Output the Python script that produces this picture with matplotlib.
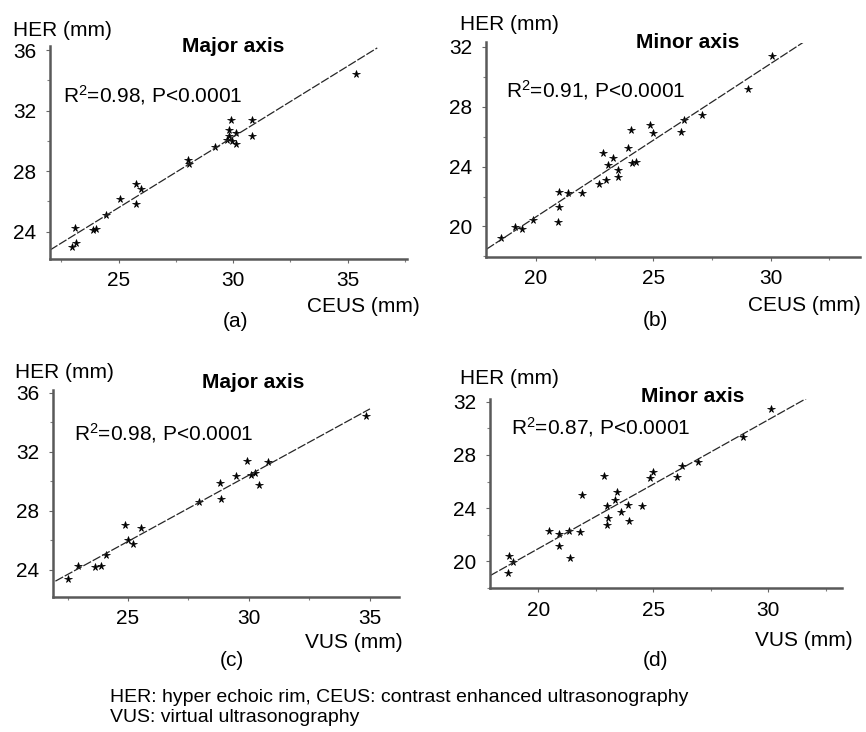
import matplotlib.pyplot as plt
import numpy as np
from matplotlib.ticker import MultipleLocator

plt.rcParams['font.family'] = ['Liberation Sans', 'DejaVu Sans']
plt.rcParams['mathtext.fontset'] = 'custom'
plt.rcParams['mathtext.rm'] = 'Liberation Sans'
plt.rcParams['mathtext.it'] = 'Liberation Sans'

W, H = 866, 732

# ---- data (mm) ----
a_x = [22.94, 23.13, 23.09, 23.88, 24.03, 24.46, 25.07, 25.74, 25.99, 25.77, 28.01, 28.06,
       29.22, 29.75, 29.83, 29.80, 29.90, 30.12, 30.14, 29.97, 30.84, 30.84, 35.36]
a_y = [23.00, 23.27, 24.26, 24.10, 24.20, 25.10, 26.14, 27.13, 26.83, 25.83, 28.75, 28.50,
       29.60, 30.07, 30.30, 30.70, 31.35, 30.50, 29.80, 29.96, 31.35, 30.33, 34.44]

b_x = [18.51, 19.12, 19.40, 19.86, 20.92, 20.96, 20.96, 21.35, 21.96, 22.67, 22.98, 22.84,
       23.05, 23.26, 23.48, 23.48, 23.90, 24.04, 24.09, 24.26, 24.85, 25.00, 26.17, 26.31,
       27.06, 29.05, 30.04]
b_y = [19.22, 19.96, 19.82, 20.44, 20.27, 21.29, 22.33, 22.27, 22.27, 22.82, 23.11, 24.93,
       24.10, 24.56, 23.33, 23.78, 25.22, 26.44, 24.22, 24.33, 26.78, 26.22, 26.33, 27.11,
       27.44, 29.22, 31.38]

c_x = [22.52, 22.93, 23.62, 23.90, 24.08, 24.86, 25.00, 25.21, 25.55, 27.94, 28.82, 28.86,
       29.48, 29.90, 30.10, 30.24, 30.42, 30.79, 34.83]
c_y = [23.37, 24.23, 24.18, 24.23, 25.02, 27.05, 26.04, 25.76, 26.83, 28.57, 29.88, 28.80,
       30.33, 31.35, 30.45, 30.60, 29.77, 31.28, 34.45]

d_x = [18.70, 18.74, 18.88, 20.48, 20.91, 20.91, 21.35, 21.38, 21.81, 21.88, 22.86, 22.97,
       23.04, 22.97, 23.33, 23.43, 23.58, 23.91, 23.96, 24.49, 24.86, 24.97, 26.01, 26.23,
       26.96, 28.91, 30.10]
d_y = [19.13, 20.38, 19.93, 22.25, 22.08, 21.18, 22.25, 20.25, 22.18, 25.00, 26.43, 24.13,
       23.25, 22.75, 24.63, 25.18, 23.68, 24.25, 23.00, 24.13, 26.25, 26.75, 26.33, 27.13,
       27.43, 29.33, 31.43]

titles = ['Major axis', 'Minor axis', 'Major axis', 'Minor axis']
stats = ['R$^2$=0.98, P<0.0001', 'R$^2$=0.91, P<0.0001',
         'R$^2$=0.98, P<0.0001', 'R$^2$=0.87, P<0.0001']
xlabels = ['CEUS (mm)', 'CEUS (mm)', 'VUS (mm)', 'VUS (mm)']
letters = ['(a)', '(b)', '(c)', '(d)']
xmajor = [[25, 30, 35], [20, 25, 30], [25, 30, 35], [20, 25, 30]]
ymajor = [[24, 28, 32, 36], [20, 24, 28, 32], [24, 28, 32, 36], [20, 24, 28, 32]]
line_span = [(22.0, 36.3), (17.9, 32.1), (22.0, 35.0), (17.9, 32.6)]
footnote = ['HER: hyper echoic rim, CEUS: contrast enhanced ultrasonography',
            'VUS: virtual ultrasonography']

# ---- layout in pixels ----
# axes box: left, right, top, bottom (px) and limits
boxes = [(50, 407, 45.5, 259), (486, 860, 42.5, 257), (53, 399, 390, 597), (490, 842, 399, 588)]
xlims = [(22.0, 37.6), (17.87, 33.8), (21.9, 36.2), (17.9, 33.2)]
ylims = [(22.2, 36.3), (17.96, 32.3), (22.15, 36.2), (18.0, 32.2)]
her_pos = [(13, 30), (460, 25), (15, 372), (460, 378)]
title_pos = [(233, 47), (688, 43), (253, 382), (693, 397)]
stat_pos = [(63, 95), (506, 90), (74, 433), (511, 427)]
xlab_pos = [(307, 307), (748, 305), (305, 642), (755, 640)]
let_pos = [(235, 322), (655, 321), (232, 661), (655, 660)]


def fx(x):
    return x / W


def fy(y):
    return 1 - y / H


fig = plt.figure(figsize=(W / 100, H / 100), dpi=100)

data = [(a_x, a_y), (b_x, b_y), (c_x, c_y), (d_x, d_y)]
for i, (xs, ys) in enumerate(data):
    l, r, t, b = boxes[i]
    ax = fig.add_axes([fx(l), fy(b), (r - l) / W, (b - t) / H])
    xs = np.array(xs)
    ys = np.array(ys)

    ax.plot(xs, ys, linestyle='none', marker='*', ms=5.5, color='black', mew=0.5)
    k, c0 = np.polyfit(xs, ys, 1)
    lx = np.array(line_span[i])
    ax.plot(lx, k * lx + c0, color='0.15', lw=0.9, linestyle=(0, (7, 1.5)))

    ax.set_xlim(*xlims[i])
    ax.set_ylim(*ylims[i])
    ax.set_xticks(xmajor[i])
    ax.set_yticks(ymajor[i])
    ax.xaxis.set_minor_locator(MultipleLocator(2.5))
    ax.yaxis.set_minor_locator(MultipleLocator(2))
    ax.tick_params(which='major', length=3, width=0.8, color='0.4', labelsize=15, pad=7)
    ax.tick_params(axis='x', which='major', pad=6)
    ax.tick_params(which='minor', length=2, width=0.8, color='0.5')
    for s in ['top', 'right']:
        ax.spines[s].set_visible(False)
    for s in ['left', 'bottom']:
        ax.spines[s].set_linewidth(1.8)
        ax.spines[s].set_color('0.35')
    ax.patch.set_alpha(0)

    fig.text(fx(her_pos[i][0]), fy(her_pos[i][1]), 'HER (mm)', fontsize=15, ha='left', va='center')
    fig.text(fx(title_pos[i][0]), fy(title_pos[i][1]), titles[i], fontsize=15,
             fontweight='bold', ha='center', va='center')
    fig.text(fx(stat_pos[i][0]), fy(stat_pos[i][1]), stats[i], fontsize=15, ha='left', va='center')
    fig.text(fx(xlab_pos[i][0]), fy(xlab_pos[i][1]), xlabels[i], fontsize=15, ha='left', va='center')
    fig.text(fx(let_pos[i][0]), fy(let_pos[i][1]), letters[i], fontsize=15, ha='center', va='center')

for j, line in enumerate(footnote):
    fig.text(fx(110), fy(697 + 21 * j), line, fontsize=14, ha='left', va='center')

fig.savefig('out.png', dpi=100)
